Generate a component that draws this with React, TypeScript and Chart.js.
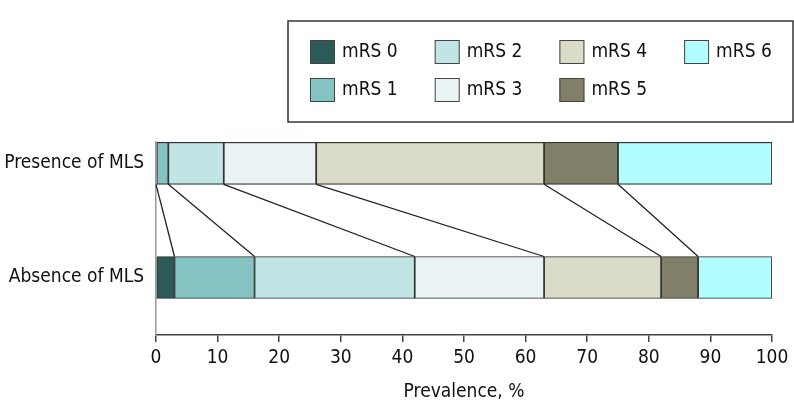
import React, { useEffect, useRef } from 'react';
import { Chart, registerables } from 'chart.js';

Chart.register(...registerables);

const groups = ['Presence of MLS', 'Absence of MLS'];
const levels = ['mRS 0', 'mRS 1', 'mRS 2', 'mRS 3', 'mRS 4', 'mRS 5', 'mRS 6'];
const presence = [0, 2, 9, 15, 37, 12, 25];
const absence = [3, 13, 26, 21, 19, 6, 12];
const colors = ['#2b5a59', '#84c3c1', '#c1e5e5', '#e9f3f4', '#dadcc7', '#827f69', '#b2fefe'];
const xTickValues = [0, 10, 20, 30, 40, 50, 60, 70, 80, 90, 100];
const xTitle = 'Prevalence, %';

const FONT = '"Liberation Sans Narrow", "DejaVu Sans Condensed", sans-serif';
const BAR = 42;

const connectorPlugin = {
  id: 'connectors',
  afterDatasetsDraw(chart: any) {
    const xs = chart.scales.x;
    const ys = chart.scales.y;
    const yA = ys.getPixelForValue(0) + BAR / 2;
    const yB = ys.getPixelForValue(1) - BAR / 2;
    const ctx = chart.ctx;
    ctx.save();
    ctx.strokeStyle = '#222';
    ctx.lineWidth = 1.3;
    let c0 = 0;
    let c1 = 0;
    for (let k = 0; k < levels.length - 1; k++) {
      c0 += presence[k];
      c1 += absence[k];
      ctx.beginPath();
      ctx.moveTo(xs.getPixelForValue(c0), yA);
      ctx.lineTo(xs.getPixelForValue(c1), yB);
      ctx.stroke();
    }
    ctx.restore();
  },
};

const legendPlugin = {
  id: 'boxLegend',
  afterDraw(chart: any) {
    const ctx = chart.ctx;
    ctx.save();
    ctx.strokeStyle = '#333';
    ctx.lineWidth = 1.5;
    ctx.strokeRect(288, 21, 505, 101);
    ctx.font = '19px ' + FONT;
    ctx.textBaseline = 'middle';
    ctx.textAlign = 'left';
    levels.forEach((lab, i) => {
      const col = Math.floor(i / 2);
      const row = i % 2;
      const sx = 310 + col * 124.7;
      const sy = 40 + row * 38;
      ctx.fillStyle = colors[i];
      ctx.fillRect(sx, sy, 25, 24);
      ctx.strokeStyle = '#444';
      ctx.lineWidth = 1;
      ctx.strokeRect(sx + 0.5, sy + 0.5, 24, 23);
      ctx.fillStyle = '#111';
      ctx.fillText(lab, sx + 32, sy + 12.5);
    });
    ctx.restore();
  },
};

export default function App() {
  const ref = useRef<HTMLCanvasElement | null>(null);
  useEffect(() => {
    if (!ref.current) return;
    const datasets = levels.map((lab, i) => ({
      label: lab,
      data: [
        { x: presence[i], y: 0 },
        { x: absence[i], y: 1 },
      ],
      backgroundColor: colors[i],
      borderColor: '#333',
      borderWidth: 1.2,
      borderSkipped: false,
      barThickness: BAR,
    }));
    const chart = new Chart(ref.current, {
      type: 'bar',
      data: { datasets },
      options: {
        indexAxis: 'y',
        animation: false,
        responsive: true,
        maintainAspectRatio: false,
        layout: { padding: { top: 142, left: 0, right: 22, bottom: 0 } },
        plugins: { legend: { display: false }, tooltip: { enabled: false } },
        scales: {
          x: {
            type: 'linear',
            stacked: true,
            min: 0,
            max: 100,
            afterBuildTicks: (s: any) => {
              s.ticks = xTickValues.map((v) => ({ value: v }));
            },
            afterFit: (s: any) => {
              s.height = 85;
            },
            ticks: {
              color: '#111',
              padding: 5,
              maxRotation: 0,
              font: { family: FONT, size: 19 },
            },
            grid: {
              drawOnChartArea: false,
              drawTicks: true,
              tickLength: 7,
              color: '#444',
              lineWidth: 1.5,
            },
            border: { display: true, color: '#444', width: 1.5 },
            title: {
              display: true,
              text: xTitle,
              color: '#111',
              font: { family: FONT, size: 19 },
              padding: { top: 0, bottom: 17 },
            },
          },
          y: {
            type: 'linear',
            stacked: true,
            offset: false,
            reverse: true,
            min: -0.1865,
            max: 1.5035,
            afterBuildTicks: (s: any) => {
              s.ticks = groups.map((_, i) => ({ value: i }));
            },
            afterFit: (s: any) => {
              s.width = 156;
            },
            ticks: {
              color: '#111',
              padding: 12,
              font: { family: FONT, size: 19 },
              callback: (v: any) => groups[v] ?? '',
            },
            grid: { display: false, drawTicks: false },
            border: { display: true, color: '#999', width: 1.5 },
          },
        },
      },
      plugins: [connectorPlugin, legendPlugin],
    } as any);
    return () => chart.destroy();
  }, []);
  return (
    <div style={{ position: 'fixed', left: 0, top: 0, width: 794, height: 420, background: '#fff' }}>
      <canvas ref={ref} />
    </div>
  );
}
